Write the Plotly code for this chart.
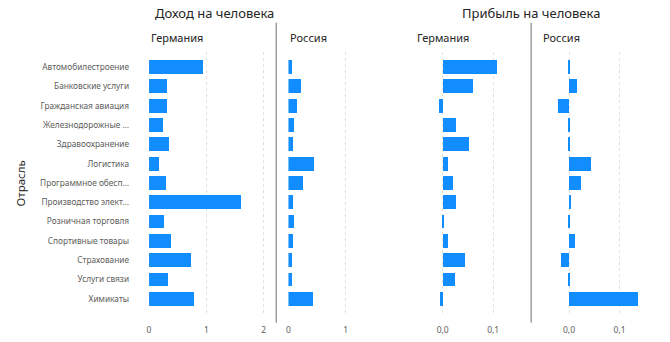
import plotly.graph_objects as go

W, H = 670, 342

categories = [
    "Автомобилестроение", "Банковские услуги", "Гражданская авиация",
    "Железнодорожные …", "Здравоохранение", "Логистика",
    "Программное обесп…", "Производство элект…", "Розничная торговля",
    "Спортивные товары", "Страхование", "Услуги связи", "Химикаты",
]

income_germany = [0.95, 0.31, 0.31, 0.25, 0.35, 0.17, 0.29, 1.60, 0.27, 0.38, 0.74, 0.34, 0.78]
income_russia = [0.07, 0.22, 0.16, 0.10, 0.09, 0.45, 0.27, 0.086, 0.10, 0.086, 0.064, 0.064, 0.43]
profit_germany = [0.108, 0.059, -0.0073, 0.026, 0.051, 0.010, 0.021, 0.026, 0.0026, 0.0105, 0.043, 0.024, -0.006]
profit_russia = [0.0026, 0.016, -0.021, 0.001, 0.003, 0.044, 0.024, 0.004, 0.002, 0.0125, -0.0146, 0.003, 0.1375]

income_ticks = [0, 1, 2]
income_ticks_ru = [0, 1]
profit_ticks = [0, 0.1]
profit_ticktext = ["0,0", "0,1"]

BLUE = "#118DFF"
FONT = "Noto Sans"
GREY = "#605E5C"
DARK = "#252423"


def px(x):
    return x / W


def py(y):
    return 1 - y / H


fig = go.Figure()
series = [(income_germany, "x"), (income_russia, "x2"), (profit_germany, "x3"), (profit_russia, "x4")]
for vals, xa in series:
    fig.add_trace(go.Bar(
        x=vals, y=categories, orientation="h", xaxis=xa, yaxis="y",
        marker=dict(color=BLUE, line=dict(width=0)), width=0.72,
        showlegend=False, hoverinfo="x+y",
    ))

grid = dict(showgrid=True, gridcolor="#E1E1E1", griddash="dot", gridwidth=1,
            zeroline=False, showline=False, ticks="", ticklabelstandoff=8,
            tickfont=dict(family=FONT, size=8.5, color=GREY), anchor="y")

inc_rng = [0, 2.1]
inc_scale = 57.5
prof_rng = [-0.055, 0.165]
prof_scale = 507

d1 = [px(147.5), px(147.5 + (inc_rng[1] - inc_rng[0]) * inc_scale)]
d2 = [px(287.3), px(287.3 + (inc_rng[1] - inc_rng[0]) * inc_scale)]
z3 = 442.0
z4 = 568.7
d3 = [px(z3 + prof_rng[0] * prof_scale), px(z3 + prof_rng[1] * prof_scale)]
d4 = [px(z4 + prof_rng[0] * prof_scale), px(z4 + prof_rng[1] * prof_scale)]

fig.update_layout(
    width=W, height=H,
    margin=dict(l=0, r=0, t=0, b=0),
    paper_bgcolor="white", plot_bgcolor="rgba(0,0,0,0)",
    font=dict(family=FONT, color=GREY),
    bargap=0,
    xaxis=dict(domain=d1, range=inc_rng, tickvals=income_ticks,
               ticktext=[str(v) for v in income_ticks], **grid),
    xaxis2=dict(domain=d2, range=inc_rng, tickvals=income_ticks_ru,
                ticktext=[str(v) for v in income_ticks_ru], **grid),
    xaxis3=dict(domain=d3, range=prof_rng, tickvals=profit_ticks, ticktext=profit_ticktext, **grid),
    xaxis4=dict(domain=d4, range=prof_rng, tickvals=profit_ticks, ticktext=profit_ticktext, **grid),
    yaxis=dict(domain=[py(315), py(52)], range=[12.84, -0.78], anchor="x",
               categoryorder="array", categoryarray=categories,
               showgrid=False, zeroline=False, showline=False, ticks="",
               ticklabelstandoff=19,
               tickfont=dict(family=FONT, size=8.3, color=GREY)),
)

annotations = [
    dict(text="Доход на человека", x=px(213.5), y=py(12.5), font=dict(size=13, color=DARK),
         xanchor="center", yanchor="middle"),
    dict(text="Прибыль на человека", x=px(530.5), y=py(12.5), font=dict(size=13, color=DARK),
         xanchor="center", yanchor="middle"),
    dict(text="Германия", x=px(147), y=py(37.5), font=dict(size=11, color=DARK),
         xanchor="left", yanchor="middle"),
    dict(text="Россия", x=px(286.5), y=py(37.5), font=dict(size=11, color=DARK),
         xanchor="left", yanchor="middle"),
    dict(text="Германия", x=px(414.5), y=py(37.5), font=dict(size=11, color=DARK),
         xanchor="left", yanchor="middle"),
    dict(text="Россия", x=px(541), y=py(37.5), font=dict(size=11, color=DARK),
         xanchor="left", yanchor="middle"),
    dict(text="Отрасль", x=px(18.5), y=py(183), textangle=-90, font=dict(size=11.5, color=DARK),
         xanchor="center", yanchor="middle"),
]
for a in annotations:
    a.update(xref="paper", yref="paper", showarrow=False)
    a["font"]["family"] = FONT
fig.update_layout(annotations=annotations)

for sx in (275, 530.7):
    fig.add_shape(type="line", xref="paper", yref="paper",
                  x0=px(sx), x1=px(sx), y0=py(22.7), y1=py(322.7),
                  line=dict(color="#6E6E6E", width=1))

fig.write_html("out.html")
